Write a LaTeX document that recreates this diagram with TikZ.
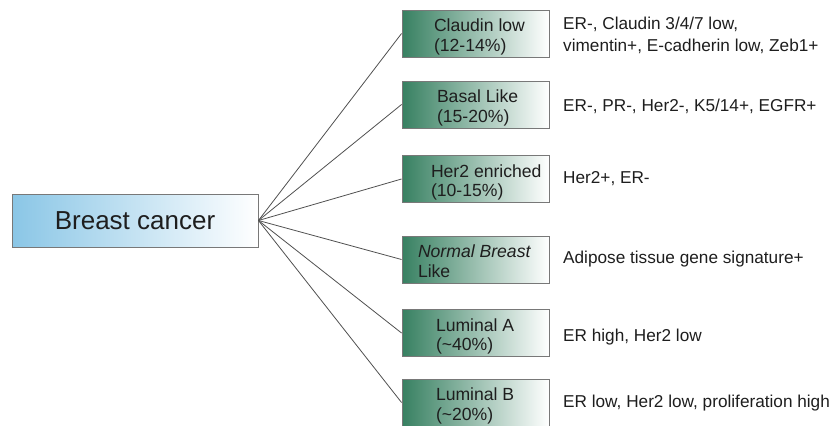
\documentclass[tikz,border=0pt]{standalone}
\usepackage{fontspec}
\setmainfont{Liberation Sans}
\definecolor{gdark}{RGB}{55,128,97}
\definecolor{bblue}{RGB}{138,198,230}
\definecolor{boxline}{RGB}{120,120,120}
\definecolor{conline}{RGB}{80,80,80}
\definecolor{txt}{RGB}{30,30,30}
\newcommand{\gtxt}[3]{\raisebox{1.6pt}[0pt][0pt]{\makebox[147pt][l]{\hspace*{#1}\begin{tabular}[t]{@{}l@{}}#2\\[-1pt]#3\end{tabular}}}}
\begin{document}
\begin{tikzpicture}[x=1pt,y=-1pt,
  bcbox/.style={draw=boxline, line width=0.9pt, left color=bblue, right color=white,
    minimum width=246pt, minimum height=53pt, inner sep=0pt,
    font=\fontsize{26}{30}\selectfont, text=txt},
  gbox/.style={draw=boxline, line width=0.9pt, left color=gdark, right color=white,
    minimum width=147pt, minimum height=47pt, inner sep=0pt,
    font=\fontsize{17.6}{20.5}\selectfont, text=txt},
  desc/.style={anchor=west, align=left, inner sep=0pt,
    font=\fontsize{17.2}{22}\selectfont, text=txt},
  con/.style={draw=conline, line width=0.8pt}]
\useasboundingbox (0,0) rectangle (839,426);

\node[bcbox] (bc) at (135,220.5) {Breast cancer};

\node[gbox] (g1) at (475.5,33.5) {\gtxt{32pt}{Claudin low}{(12-14\%)}};
\node[gbox] (g2) at (475.5,104.5) {\gtxt{35pt}{Basal Like}{(15-20\%)}};
\node[gbox] (g3) at (475.5,179) {\gtxt{29pt}{Her2 enriched}{(10-15\%)}};
\node[gbox] (g4) at (475.5,259.5) {\gtxt{16pt}{\textit{Normal Breast}}{Like}};
\node[gbox] (g5) at (475.5,333) {\gtxt{34pt}{Luminal A}{(\textasciitilde 40\%)}};
\node[gbox] (g6) at (475.5,402.5) {\gtxt{34pt}{Luminal B}{(\textasciitilde 20\%)}};

\node[desc] (d1) at (563,35) {ER-, Claudin 3/4/7 low,\\vimentin+, E-cadherin low, Zeb1+};
\node[desc] (d2) at (563,106) {ER-, PR-, Her2-, K5/14+, EGFR+};
\node[desc] (d3) at (563,179) {Her2+, ER-};
\node[desc] (d4) at (563,259) {Adipose tissue gene signature+};
\node[desc] (d5) at (563,337) {ER high, Her2 low};
\node[desc] (d6) at (563,403) {ER low, Her2 low, proliferation high};

\foreach \g in {g1,g2,g3,g4,g5,g6}
  \draw[con] (bc.east) -- (\g.west);
\end{tikzpicture}
\end{document}
